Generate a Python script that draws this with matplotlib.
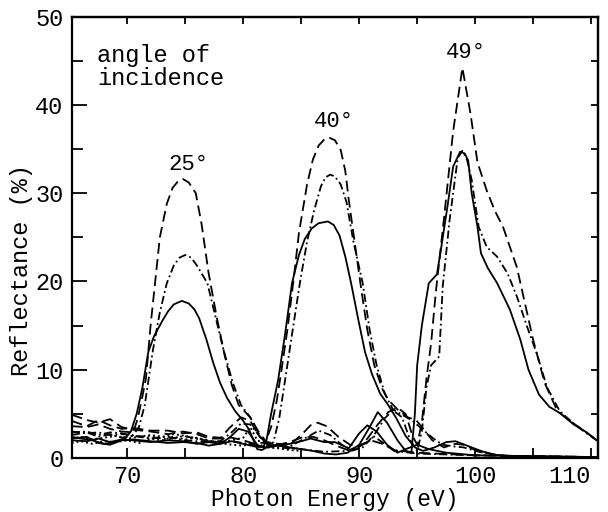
import matplotlib.pyplot as plt
from matplotlib.ticker import MultipleLocator

plt.rcParams['font.family'] = ['Liberation Mono', 'DejaVu Sans Mono']

# --- 25 degrees ---
x_d25 = [65.2, 66.5, 67.5, 68.5, 69.5, 70.5, 70.9, 71.3, 71.6, 72.0, 72.4, 72.8, 73.4, 73.9, 74.4, 74.8, 75.3, 75.9,
         76.4, 77.0, 77.7, 78.4, 79.0, 79.6, 80.6, 81.3, 82.0, 83.0, 84.0, 85.0, 85.8, 86.4, 87.2, 88.2, 89.2, 90.0,
         91.0, 92.0, 93.0, 95.0, 100.0, 110.6]
y_d25 = [3.6, 3.5, 3.8, 3.3, 3.0, 2.9, 4.5, 7.0, 9.0, 15.0, 20.0, 25.0, 28.8, 30.6, 31.4, 31.6, 31.2, 30.0,
         26.5, 21.0, 16.0, 11.6, 8.3, 6.0, 4.6, 3.0, 1.8, 1.6, 1.5, 2.6, 3.7, 4.0, 3.6, 2.4, 1.5, 1.3,
         2.0, 1.6, 0.9, 0.6, 0.3, 0.1]

x_c25 = [65.2, 66.5, 67.5, 68.5, 69.5, 70.5, 71.0, 71.5, 72.2, 72.8, 73.4, 74.0, 74.5, 75.0, 75.5, 76.0, 76.9, 77.6,
         78.3, 79.1, 79.8, 80.6, 81.3, 82.0, 83.0, 84.0, 85.0, 86.5, 87.5, 88.5, 89.3, 90.3, 91.2, 92.3, 93.0, 95.0,
         100.0, 110.6]
y_c25 = [3.0, 2.8, 2.9, 2.6, 2.7, 2.6, 3.5, 6.0, 12.2, 16.5, 19.8, 21.8, 22.7, 23.0, 22.7, 21.8, 19.8, 16.0,
         12.2, 8.5, 6.0, 4.6, 2.8, 1.6, 1.4, 1.3, 2.0, 3.1, 2.6, 1.5, 0.8, 1.2, 2.5, 1.5, 0.8, 0.5,
         0.3, 0.1]

x_s25 = [65.2, 66.0, 67.0, 68.0, 69.0, 69.8, 70.3, 70.8, 71.3, 71.8, 72.3, 73.0, 73.5, 74.0, 74.7, 75.3, 75.8, 76.2,
         76.8, 77.4, 78.0, 78.6, 79.3, 80.0, 80.5, 81.2, 81.6, 82.3, 83.0, 84.0, 85.0, 85.8, 87.0, 87.9, 89.1, 90.0,
         90.7, 91.5, 92.4, 93.3, 94.0, 95.0, 96.0, 97.5, 100.0, 110.6]
y_s25 = [2.4, 2.2, 2.0, 1.6, 1.8, 2.2, 3.0, 5.0, 8.0, 12.0, 13.8, 15.5, 16.6, 17.4, 17.8, 17.5, 16.8, 15.8,
         13.5, 10.8, 8.5, 6.8, 5.3, 4.2, 3.2, 1.0, 0.9, 1.4, 1.5, 1.6, 1.9, 2.2, 1.8, 1.8, 1.1, 2.8,
         3.7, 3.0, 1.5, 0.6, 1.0, 1.5, 1.0, 0.6, 0.3, 0.1]

# --- 40 degrees ---
x_d40 = [65.2, 66.5, 67.5, 68.5, 69.5, 70.5, 72.0, 73.5, 74.8, 76.0, 77.0, 78.0, 78.8, 79.8, 80.6, 81.3, 81.9, 82.4,
         82.9, 83.3, 83.8, 84.3, 84.8, 85.5, 86.0, 86.5, 87.0, 87.4, 87.9, 88.4, 88.8, 89.1, 89.6, 90.1, 90.7, 91.3,
         92.0, 92.5, 93.3, 94.2, 94.9, 95.6, 96.3, 97.3, 98.3, 99.0, 100.0, 101.0, 102.0, 104.0, 110.6]
y_d40 = [4.9, 4.3, 4.0, 4.4, 3.5, 3.2, 3.0, 2.7, 3.0, 2.7, 2.2, 2.2, 3.4, 4.6, 4.2, 2.6, 1.8, 3.5,
         6.6, 10.0, 14.5, 19.8, 25.5, 31.0, 33.8, 35.4, 36.1, 36.3, 36.0, 34.9, 32.5, 29.2, 24.5, 19.8, 14.5, 10.5,
         7.8, 6.6, 5.5, 4.6, 4.3, 3.2, 2.0, 1.2, 1.6, 1.5, 0.9, 0.6, 0.3, 0.15, 0.1]

x_c40 = [65.2, 66.5, 67.5, 68.5, 69.5, 70.5, 72.0, 73.5, 74.8, 76.0, 77.0, 78.0, 78.9, 79.8, 80.6, 81.5, 82.2, 82.6,
         83.1, 83.6, 84.2, 84.9, 85.5, 86.1, 86.7, 87.1, 87.5, 87.9, 88.4, 88.9, 89.5, 90.3, 90.9, 91.5, 92.2, 92.9,
         93.7, 94.6, 95.5, 96.4, 97.2, 98.2, 99.0, 100.0, 101.0, 102.0, 104.0, 110.6]
y_c40 = [2.9, 3.0, 2.6, 2.9, 2.8, 2.5, 2.4, 2.1, 2.5, 2.2, 1.9, 1.9, 2.8, 3.9, 3.8, 2.3, 1.4, 1.8,
         4.5, 8.8, 14.0, 20.0, 24.5, 28.0, 30.8, 31.8, 32.1, 31.9, 31.0, 29.0, 24.5, 19.8, 14.5, 10.5, 7.3, 5.5,
         4.9, 4.2, 3.2, 2.2, 1.5, 1.3, 1.2, 0.8, 0.5, 0.3, 0.15, 0.1]

x_s40 = [65.2, 66.5, 67.5, 68.5, 69.5, 70.5, 72.0, 73.5, 74.8, 76.0, 77.0, 78.0, 78.8, 79.6, 80.4, 81.2, 81.7, 82.0,
         82.4, 83.0, 83.6, 84.2, 84.8, 85.3, 85.9, 86.5, 87.3, 87.8, 88.3, 88.8, 89.3, 89.9, 90.5, 91.1, 91.8, 92.5,
         93.2, 94.0, 94.8, 95.5, 96.5, 97.5, 98.3, 99.3, 100.5, 101.5, 103.0, 110.6]
y_s40 = [2.2, 2.4, 1.7, 1.5, 2.0, 2.1, 1.9, 1.7, 1.8, 1.7, 1.4, 1.6, 2.3, 3.3, 3.0, 1.5, 1.2, 2.0,
         5.0, 8.8, 14.0, 19.8, 23.0, 24.8, 26.0, 26.6, 26.8, 26.4, 25.2, 22.8, 19.8, 15.8, 12.0, 9.5, 7.3, 6.0,
         4.5, 2.5, 1.2, 0.8, 1.2, 1.8, 1.9, 1.4, 0.8, 0.4, 0.2, 0.1]

# --- 49 degrees ---
x_d49 = [65.2, 66.5, 67.5, 68.5, 69.5, 70.5, 72.0, 73.5, 74.8, 76.0, 77.0, 78.0, 79.0, 80.0, 81.0, 82.0, 83.0, 84.0,
         85.0, 86.0, 87.0, 88.0, 89.0, 89.8, 90.7, 91.6, 92.5, 93.3, 94.0, 94.6, 95.0, 95.4, 95.8, 96.2, 96.6, 97.3,
         98.1, 98.9, 99.6, 100.2, 101.0, 101.7, 102.4, 103.6, 104.3, 105.0, 106.0, 107.1, 108.5, 109.5, 110.6]
y_d49 = [4.2, 3.6, 4.3, 3.7, 3.3, 3.4, 3.1, 3.1, 2.8, 2.9, 2.4, 2.3, 2.3, 2.0, 1.6, 1.8, 1.5, 1.8,
         2.3, 2.4, 2.0, 1.4, 0.9, 1.0, 2.2, 3.8, 5.2, 5.7, 5.0, 2.5, 1.5, 4.0, 9.0, 13.0, 18.7, 27.0,
         37.0, 44.2, 39.0, 33.5, 30.3, 28.0, 26.2, 21.6, 17.5, 13.4, 8.5, 5.3, 3.9, 3.0, 1.9]

x_c49 = [65.2, 66.5, 67.5, 68.5, 69.5, 70.5, 72.0, 73.5, 75.0, 77.0, 79.0, 81.0, 83.0, 85.0, 87.0, 89.0, 91.0, 92.2,
         92.9, 93.7, 94.4, 95.0, 95.4, 95.8, 96.2, 96.9, 97.2, 97.8, 98.5, 98.9, 99.3, 99.7, 100.3, 101.0, 101.9,
         102.8, 103.6, 104.5, 105.3, 106.2, 107.3, 108.5, 109.5, 110.6]
y_c49 = [2.6, 2.9, 2.4, 2.7, 2.3, 2.5, 2.2, 2.4, 2.0, 1.8, 1.9, 1.5, 1.2, 1.0, 0.7, 0.8, 2.0, 4.5,
         5.4, 4.6, 2.0, 0.8, 3.0, 8.0, 10.5, 11.5, 19.4, 27.0, 34.0, 34.8, 33.8, 31.5, 26.2, 23.9, 22.8,
         20.9, 18.3, 14.8, 11.9, 8.0, 5.3, 3.9, 2.9, 1.9]

x_s49 = [65.2, 66.5, 67.5, 68.5, 69.5, 70.5, 72.0, 73.5, 74.8, 76.0, 77.0, 78.0, 79.0, 80.0, 81.0, 82.0, 83.0, 84.0,
         85.0, 86.0, 87.0, 88.0, 89.0, 90.0, 90.9, 91.6, 92.4, 93.3, 94.0, 94.5, 94.8, 95.0, 95.4, 96.0, 96.7,
         97.0, 97.6, 98.1, 98.7, 99.1, 99.4, 99.7, 100.2, 100.5, 101.1, 101.9, 103.0, 103.9, 104.6, 105.5, 106.4,
         107.3, 108.5, 109.5, 110.6]
y_s49 = [2.0, 1.9, 2.2, 1.8, 2.1, 2.0, 1.8, 2.0, 1.9, 1.6, 1.8, 1.6, 1.9, 1.6, 1.3, 1.2, 1.4, 1.2,
         1.0, 0.8, 0.5, 0.4, 0.6, 1.5, 3.5, 5.2, 4.0, 2.0, 0.8, 0.6, 5.0, 10.5, 15.0, 19.8, 20.8,
         23.2, 28.4, 33.0, 34.7, 34.5, 33.7, 30.0, 26.2, 23.2, 21.5, 19.8, 16.8, 13.4, 10.0, 7.2, 5.8,
         5.1, 3.8, 3.0, 1.9]

# dotted background traces
x_dot = [65.2, 66.0, 67.0, 68.0, 69.0, 70.0, 71.0, 72.0, 73.0, 74.0, 75.0, 76.0, 77.0, 78.0, 79.0, 80.0, 80.6,
         81.2, 82.0, 83.0, 84.0, 85.0]
y_dot1 = [1.7, 1.9, 1.6, 1.9, 1.8, 2.0, 1.7, 2.2, 2.0, 2.4, 2.1, 2.3, 1.9, 1.8, 2.0, 2.3, 3.5,
          2.0, 1.6, 1.4, 1.2, 1.0]
y_dot2 = [2.2, 2.4, 2.1, 2.3, 2.5, 2.2, 2.4, 2.6, 2.4, 2.7, 2.5, 2.2, 2.0, 1.7, 1.5, 1.4, 1.6,
          1.3, 1.2, 1.1, 0.9, 0.8]

angle_labels = ["25°", "40°", "49°"]
angle_label_x = [75.3, 87.8, 99.2]
angle_label_y = [33.2, 38.1, 45.9]

x_ticks = [70, 80, 90, 100, 110]
x_tick_labels = ["70", "80", "90", "100", "110"]

dashed = (0, (6, 3))
dashdot = (0, (4.5, 1.8, 1, 1.8))
dotted = (0, (1, 1.5))

fig = plt.figure(figsize=(6.08, 5.12), dpi=100)
ax = fig.add_axes([0.118, 0.1055, 0.8656, 0.862])

lw = 1.3
for xs, ys in [(x_d25, y_d25), (x_d40, y_d40), (x_d49, y_d49)]:
    ax.plot(xs, ys, color="black", lw=lw, linestyle=dashed)
for xs, ys in [(x_c25, y_c25), (x_c40, y_c40), (x_c49, y_c49)]:
    ax.plot(xs, ys, color="black", lw=lw, linestyle=dashdot)
for xs, ys in [(x_s25, y_s25), (x_s40, y_s40), (x_s49, y_s49)]:
    ax.plot(xs, ys, color="black", lw=lw, linestyle="-")
ax.plot(x_dot, y_dot1, color="black", lw=1.4, linestyle=dotted)
ax.plot(x_dot, y_dot2, color="black", lw=1.4, linestyle=dotted)

for lab, lx, ly in zip(angle_labels, angle_label_x, angle_label_y):
    ax.text(lx, ly, lab, ha="center", va="center", fontsize=16)

ax.text(67.4, 46.9, "angle of\nincidence", ha="left", va="top", fontsize=17, linespacing=1.0)

ax.set_xlim(65.2, 110.6)
ax.set_ylim(0, 50)

ax.set_xticks(x_ticks, x_tick_labels)
ax.xaxis.set_minor_locator(MultipleLocator(5))
ax.yaxis.set_major_locator(MultipleLocator(10))
ax.yaxis.set_minor_locator(MultipleLocator(5))
ax.tick_params(axis="x", which="both", direction="in", length=7, width=1.3, labelsize=17, pad=5)
ax.tick_params(axis="y", which="major", direction="in", length=11, width=1.3, labelsize=17, pad=6)
ax.tick_params(axis="y", which="minor", direction="in", length=8, width=1.3)

top = ax.secondary_xaxis("top")
top.xaxis.set_major_locator(MultipleLocator(5))
top.tick_params(direction="in", length=5, width=1.3, labeltop=False)
right = ax.secondary_yaxis("right")
right.yaxis.set_major_locator(MultipleLocator(5))
right.tick_params(direction="in", length=5, width=1.3, labelright=False)

for a in (ax, top, right):
    for s in a.spines.values():
        s.set_linewidth(1.6)

ax.set_xlabel("Photon Energy (eV)", fontsize=16.5, labelpad=0)
fig.text(0.036, 0.473, "Reflectance (%)", rotation=90, ha="center", va="center", fontsize=17)

# keep the last x label inside the figure
ax.xaxis.get_major_ticks()[-1].label1.set_horizontalalignment("right")
ax.xaxis.get_major_ticks()[-1].label1.set_x(110.4)

fig.savefig("out.png", dpi=100)
